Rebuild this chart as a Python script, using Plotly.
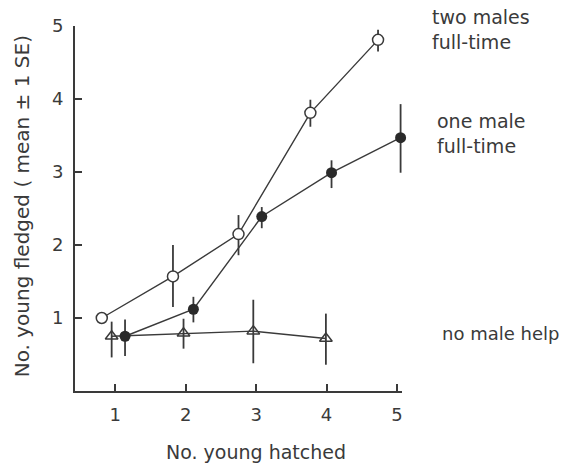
import plotly.graph_objects as go

# --- data ---
two_x = [0.81, 1.82, 2.75, 3.77, 4.73]
two_y = [1.00, 1.57, 2.15, 3.81, 4.81]
two_upper = [1.00, 2.00, 2.41, 3.99, 4.95]
two_lower = [1.00, 1.15, 1.86, 3.62, 4.65]

one_x = [1.14, 2.11, 3.08, 4.07, 5.05]
one_y = [0.75, 1.12, 2.39, 2.99, 3.47]
one_upper = [0.98, 1.29, 2.52, 3.16, 3.93]
one_lower = [0.48, 0.94, 2.23, 2.78, 2.99]

no_x = [0.95, 1.97, 2.96, 3.99]
no_y = [0.75, 0.79, 0.82, 0.72]
no_upper = [0.95, 0.99, 1.25, 1.06]
no_lower = [0.46, 0.58, 0.38, 0.36]

x_ticks = [1, 2, 3, 4, 5]
y_ticks = [1, 2, 3, 4, 5]

series_labels = ["two males<br>full-time", "one male<br>full-time", "no male help"]
label_y = [4.95, 3.53, 0.79]
label_px = [1.086, 1.101, 1.116]
label_size = [19, 19, 18]

INK = "#3a3a3a"
FONT = "DejaVu Sans"


def err(y, up, lo):
    return dict(type="data", symmetric=False,
                array=[u - v for u, v in zip(up, y)],
                arrayminus=[v - l for v, l in zip(y, lo)],
                color=INK, thickness=1.8, width=0)


fig = go.Figure()

fig.add_trace(go.Scatter(
    x=no_x, y=no_y, mode="lines+markers", error_y=err(no_y, no_upper, no_lower),
    line=dict(color=INK, width=1.4),
    marker=dict(symbol="triangle-up-open", size=11, color=INK, line=dict(width=1.5)),
    cliponaxis=False, showlegend=False))

fig.add_trace(go.Scatter(
    x=one_x, y=one_y, mode="lines+markers", error_y=err(one_y, one_upper, one_lower),
    line=dict(color=INK, width=1.4),
    marker=dict(symbol="circle", size=11, color="#2a2a2a"),
    cliponaxis=False, showlegend=False))

fig.add_trace(go.Scatter(
    x=two_x, y=two_y, mode="lines+markers", error_y=err(two_y, two_upper, two_lower),
    line=dict(color=INK, width=1.4),
    marker=dict(symbol="circle", size=11, color="white", line=dict(color=INK, width=1.5)),
    cliponaxis=False, showlegend=False))

for t, lx, ly, fs in zip(series_labels, label_px, label_y, label_size):
    fig.add_annotation(x=lx, y=ly, xref="paper", yref="y", text=t, showarrow=False,
                       xanchor="left", yanchor="middle", align="left",
                       font=dict(family=FONT, size=fs, color=INK))

fig.add_annotation(x=3.0, y=0, xref="x", yref="paper", text="No. young hatched",
                   showarrow=False, xanchor="center", yanchor="middle", yshift=-61,
                   font=dict(family=FONT, size=19, color=INK))
fig.add_annotation(x=0, y=2.53, xref="paper", yref="y",
                   text="No. young fledged ( mean \u00b1 1 SE)",
                   showarrow=False, textangle=-90, xanchor="center", yanchor="middle",
                   xshift=-53, font=dict(family=FONT, size=20, color=INK))

fig.update_xaxes(range=[0.43, 5.07], tickvals=x_ticks, ticks="inside", ticklen=7,
                 tickwidth=2, tickcolor=INK, showline=True, linecolor=INK, linewidth=2,
                 showgrid=False, zeroline=False, ticklabelstandoff=6,
                 tickfont=dict(family=FONT, size=18, color=INK))
fig.update_yaxes(range=[0, 5.0], tickvals=y_ticks, ticks="inside", ticklen=7,
                 tickwidth=2, tickcolor=INK, showline=True, linecolor=INK, linewidth=2,
                 showgrid=False, zeroline=False, ticklabelstandoff=6,
                 tickfont=dict(family=FONT, size=18, color=INK))

fig.update_layout(width=565, height=463, margin=dict(l=75, r=163, t=26, b=72),
                  paper_bgcolor="white", plot_bgcolor="white")

fig.write_html("out.html")
